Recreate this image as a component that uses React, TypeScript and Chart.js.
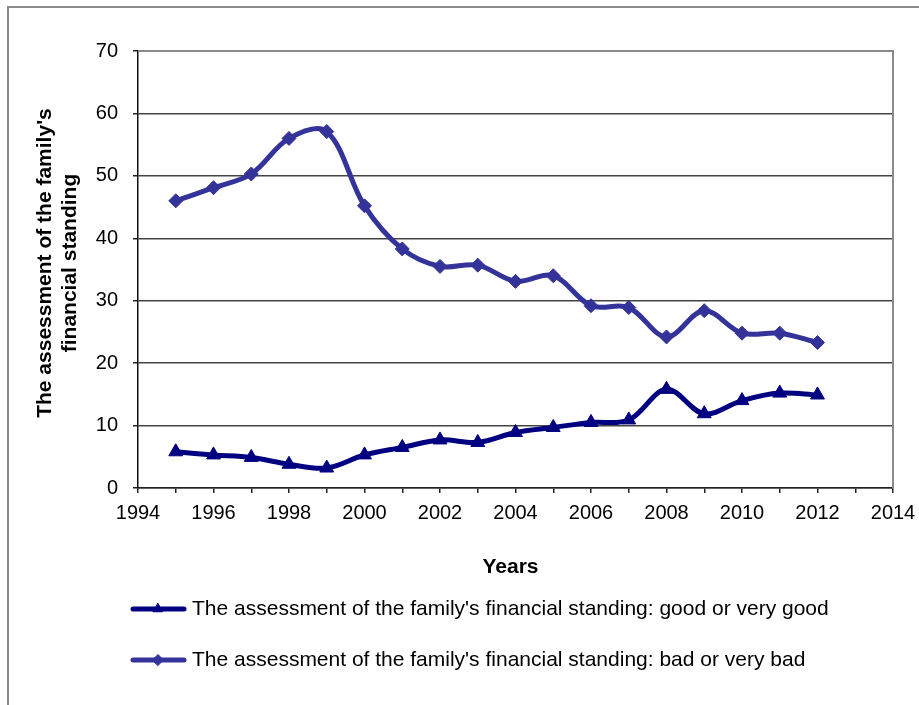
import React, { useEffect, useRef } from 'react';
import { Chart, registerables } from 'chart.js';
import { drawPoint } from 'chart.js/helpers';

Chart.register(...registerables);

// Survey years and the share of respondents (%) per assessment
const years = [1995, 1996, 1997, 1998, 1999, 2000, 2001, 2002, 2003, 2004, 2005, 2006, 2007, 2008, 2009, 2010, 2011, 2012];
const goodValues = [5.8, 5.3, 4.9, 3.8, 3.2, 5.3, 6.5, 7.7, 7.3, 8.9, 9.7, 10.5, 10.9, 15.8, 11.9, 14.0, 15.2, 14.9];
const badValues = [46.0, 48.1, 50.3, 56.0, 57.1, 45.2, 38.3, 35.5, 35.7, 33.1, 34.0, 29.2, 28.9, 24.2, 28.4, 24.8, 24.8, 23.3];

const seriesNames = [
  "The assessment of the family's financial standing: good or very good",
  "The assessment of the family's financial standing: bad or very bad",
];
const xTickLabels = ['1994', '1996', '1998', '2000', '2002', '2004', '2006', '2008', '2010', '2012', '2014'];
const yTickLabels = ['0', '10', '20', '30', '40', '50', '60', '70'];
const yTitleLines = ["The assessment of the family's", 'financial standing'];
const xTitle = 'Years';

const GOOD_COLOR = '#000080';
const BAD_COLOR = '#333399';
const FONT = "'Liberation Sans', Arial, sans-serif";

const decorations = {
  id: 'decorations',
  beforeDraw(chart: any) {
    const { ctx, width, height } = chart;
    ctx.save();
    ctx.fillStyle = '#ffffff';
    ctx.fillRect(0, 0, width, height);
    // outer frame (top and left edges)
    ctx.strokeStyle = '#8a8a8a';
    ctx.lineWidth = 2;
    ctx.beginPath();
    ctx.moveTo(8, height);
    ctx.lineTo(8, 7);
    ctx.lineTo(width, 7);
    ctx.stroke();
    ctx.restore();
  },
  beforeDatasetsDraw(chart: any) {
    const { ctx, chartArea } = chart;
    ctx.save();
    ctx.strokeStyle = '#8a8a8a';
    ctx.lineWidth = 2;
    ctx.beginPath();
    ctx.moveTo(chartArea.left, chartArea.top);
    ctx.lineTo(chartArea.right, chartArea.top);
    ctx.lineTo(chartArea.right, chartArea.bottom);
    ctx.stroke();
    ctx.restore();
  },
  afterDraw(chart: any) {
    const { ctx, chartArea } = chart;
    ctx.save();
    ctx.fillStyle = '#000000';

    // y axis title, two rotated lines
    ctx.font = `bold 21px ${FONT}`;
    ctx.textAlign = 'center';
    ctx.textBaseline = 'middle';
    const cy = 263;
    [45, 70].forEach((x, i) => {
      ctx.save();
      ctx.translate(x, cy);
      ctx.rotate(-Math.PI / 2);
      ctx.fillText(yTitleLines[i], 0, 0);
      ctx.restore();
    });

    // x axis title
    ctx.fillText(xTitle, (chartArea.left + chartArea.right) / 2 - 5, 567);

    // legend
    const rows = [609, 660];
    chart.data.datasets.forEach((ds: any, i: number) => {
      const y = rows[i];
      ctx.strokeStyle = ds.borderColor;
      ctx.fillStyle = ds.borderColor;
      ctx.lineWidth = 5;
      ctx.lineCap = 'round';
      ctx.beginPath();
      ctx.moveTo(133, y);
      ctx.lineTo(184, y);
      ctx.stroke();
      ctx.lineWidth = 1;
      drawPoint(ctx, { pointStyle: ds.pointStyle, radius: 5.5, borderWidth: 1, rotation: 0 } as any, 158, y);
      ctx.fillStyle = '#000000';
      ctx.font = `21px ${FONT}`;
      ctx.textAlign = 'left';
      ctx.textBaseline = 'middle';
      ctx.fillText(ds.label, 192, y);
    });
    ctx.restore();
  },
};

export default function App() {
  const canvasRef = useRef<HTMLCanvasElement | null>(null);

  useEffect(() => {
    if (!canvasRef.current) return;
    const toPoints = (vals: number[]) => vals.map((v, i) => ({ x: years[i], y: v }));

    const chart = new Chart(canvasRef.current, {
      type: 'line',
      data: {
        datasets: [
          {
            label: seriesNames[0],
            data: toPoints(goodValues),
            borderColor: GOOD_COLOR,
            backgroundColor: GOOD_COLOR,
            pointBackgroundColor: GOOD_COLOR,
            pointBorderColor: GOOD_COLOR,
            borderWidth: 5,
            pointStyle: 'triangle',
            pointRadius: 8,
            pointBorderWidth: 1,
            tension: 0.35,
            fill: false,
          },
          {
            label: seriesNames[1],
            data: toPoints(badValues),
            borderColor: BAD_COLOR,
            backgroundColor: BAD_COLOR,
            pointBackgroundColor: BAD_COLOR,
            pointBorderColor: BAD_COLOR,
            borderWidth: 5,
            pointStyle: 'rectRot',
            pointRadius: 7,
            pointBorderWidth: 1,
            tension: 0.35,
            fill: false,
          },
        ],
      },
      options: {
        responsive: false,
        animation: false,
        devicePixelRatio: 1,
        layout: { padding: { top: 51, right: 26, left: 0, bottom: 0 } },
        plugins: {
          legend: { display: false },
          tooltip: { enabled: false },
          title: { display: false },
        },
        scales: {
          x: {
            type: 'linear',
            min: 1994,
            max: 2014,
            afterFit: (scale: any) => {
              scale.height = 217;
              scale.paddingLeft = 0;
              scale.paddingRight = 0;
            },
            ticks: {
              stepSize: 1,
              autoSkip: false,
              maxRotation: 0,
              padding: 8,
              color: '#000000',
              font: { family: FONT, size: 20 },
              callback: (v: any) => (xTickLabels.includes(String(v)) ? String(v) : ''),
            },
            grid: {
              drawOnChartArea: false,
              drawTicks: true,
              tickLength: 5,
              color: '#222222',
              lineWidth: 1.5,
            },
            border: { display: true, color: '#222222', width: 1.5 },
          },
          y: {
            min: 0,
            max: 70,
            afterFit: (scale: any) => {
              scale.width = 138;
              scale.paddingTop = 0;
              scale.paddingBottom = 0;
            },
            ticks: {
              stepSize: 10,
              padding: 15,
              color: '#000000',
              font: { family: FONT, size: 20 },
              callback: (v: any) => yTickLabels[Math.round(Number(v) / 10)] ?? '',
            },
            grid: {
              drawTicks: true,
              tickLength: 5,
              color: (c: any) => (c.tick && c.tick.value === 70 ? 'rgba(0,0,0,0)' : '#444444'),
              tickColor: '#222222',
              lineWidth: 1.5,
            },
            border: { display: true, color: '#111111', width: 1.5 },
          },
        },
      },
      plugins: [decorations],
    });

    return () => chart.destroy();
  }, []);

  return (
    <div style={{ position: 'absolute', left: 0, top: 0, width: 919, height: 705, background: '#fff' }}>
      <canvas ref={canvasRef} width={919} height={705} style={{ display: 'block' }} />
    </div>
  );
}
